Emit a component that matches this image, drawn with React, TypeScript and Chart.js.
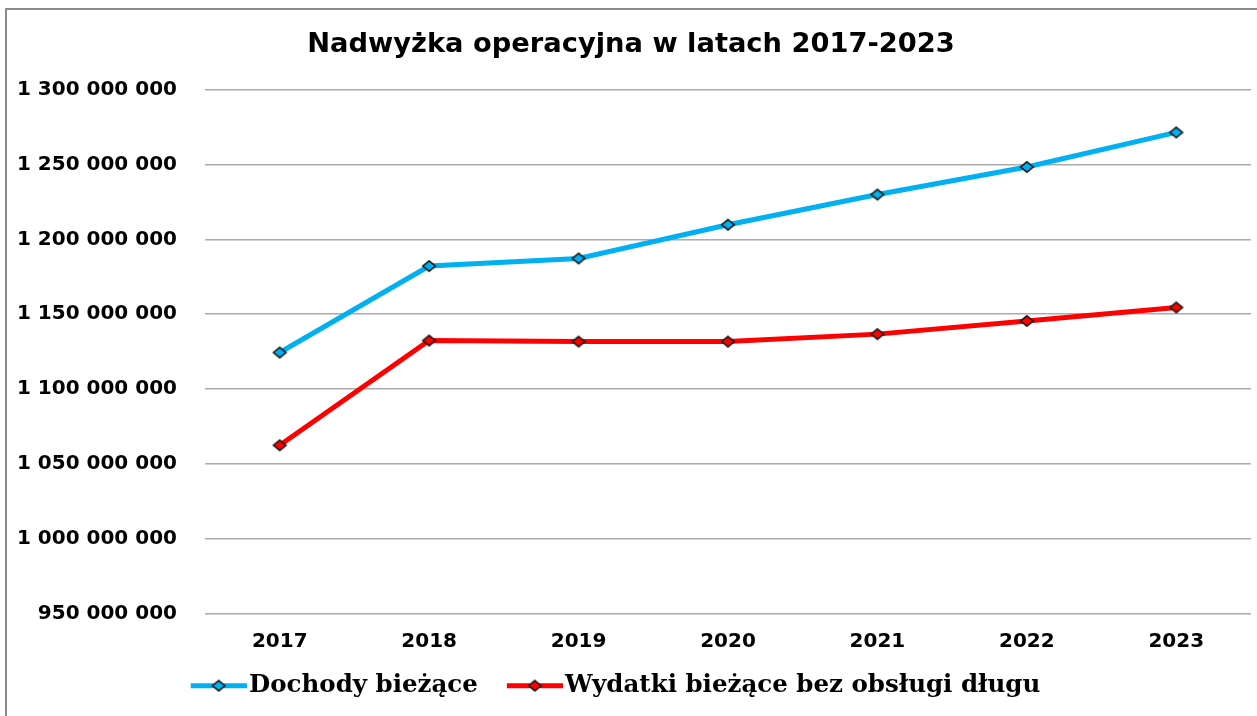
import React, { useEffect, useRef } from 'react';
import { Chart, registerables } from 'chart.js';

Chart.register(...registerables);

const TITLE = 'Nadwyżka operacyjna w latach 2017-2023';
const YEARS = ['2017', '2018', '2019', '2020', '2021', '2022', '2023'];
const DOCHODY_BIEZACE = [1124400000, 1182200000, 1187300000, 1209800000, 1230000000, 1248400000, 1271500000];
const WYDATKI_BEZ_OBSLUGI = [1062400000, 1132400000, 1131700000, 1131700000, 1136700000, 1145500000, 1154500000];
const SERIES_NAMES = ['Dochody bieżące', 'Wydatki bieżące bez obsługi długu'];
const SERIES_COLORS = ['#00B0F0', '#FF0000'];
const Y_MIN = 950000000;
const Y_MAX = 1300000000;
const Y_STEP = 50000000;

const CANVAS_W = 1262;
const CANVAS_H = 716;

function drawDiamond(ctx: CanvasRenderingContext2D, cx: number, cy: number, hw: number, hh: number, color: string) {
  ctx.beginPath();
  ctx.moveTo(cx, cy - hh);
  ctx.lineTo(cx + hw, cy);
  ctx.lineTo(cx, cy + hh);
  ctx.lineTo(cx - hw, cy);
  ctx.closePath();
  ctx.fillStyle = color;
  ctx.fill();
  ctx.lineWidth = 1.6;
  ctx.strokeStyle = '#1a1a1a';
  ctx.stroke();
}

function makePointImage(color: string) {
  const c = document.createElement('canvas');
  c.width = 16;
  c.height = 14;
  const ctx = c.getContext('2d')!;
  drawDiamond(ctx, 8, 7, 6.3, 5.2, color);
  return c;
}

function makeLegendImage(color: string) {
  const c = document.createElement('canvas');
  c.width = 75;
  c.height = 13;
  const ctx = c.getContext('2d')!;
  ctx.strokeStyle = color;
  ctx.lineWidth = 5;
  ctx.beginPath();
  ctx.moveTo(19, 6.5);
  ctx.lineTo(75, 6.5);
  ctx.stroke();
  drawDiamond(ctx, 47, 6.5, 6.3, 5.2, color);
  return c;
}

function formatSpaced(v: number) {
  return String(Math.round(v)).replace(/\B(?=(\d{3})+(?!\d))/g, ' ');
}

const legendShift = {
  id: 'legendShift',
  afterLayout(chart: any) {
    if (chart.legend) chart.legend.left -= 40;
  },
};

export default function App() {
  const ref = useRef<HTMLCanvasElement | null>(null);

  useEffect(() => {
    if (!ref.current) return;
    const pointImgs = SERIES_COLORS.map(makePointImage);
    const legendImgs = SERIES_COLORS.map(makeLegendImage);
    const seriesData = [DOCHODY_BIEZACE, WYDATKI_BEZ_OBSLUGI];

    const chart = new Chart(ref.current, {
      type: 'line',
      data: {
        labels: YEARS,
        datasets: seriesData.map((d, i) => ({
          label: SERIES_NAMES[i],
          data: d,
          borderColor: SERIES_COLORS[i],
          backgroundColor: SERIES_COLORS[i],
          borderWidth: 5,
          pointStyle: pointImgs[i] as any,
          pointRadius: 6,
          tension: 0,
          fill: false,
        })),
      },
      plugins: [legendShift],
      options: {
        responsive: false,
        animation: false,
        events: [],
        layout: { padding: { left: 0, right: 0, top: 0, bottom: 8 } },
        plugins: {
          tooltip: { enabled: false },
          title: {
            display: true,
            text: TITLE,
            color: '#000',
            font: { family: 'DejaVu Sans', size: 27.3, weight: 'bold' },
            padding: { top: 29, bottom: 28 },
          },
          legend: {
            display: true,
            position: 'bottom',
            labels: {
              color: '#000',
              font: { family: 'DejaVu Serif', size: 24.5, weight: 'bold' },
              usePointStyle: true,
              pointStyleWidth: 55,
              padding: 20,
              generateLabels: (c: any) => {
                const items = (Chart.defaults as any).plugins.legend.labels.generateLabels(c);
                return items.map((it: any) => ({ ...it, pointStyle: legendImgs[it.datasetIndex], fontColor: '#000' }));
              },
            },
          },
        },
        scales: {
          x: {
            type: 'category',
            offset: true,
            grid: { display: false, drawTicks: false },
            border: { display: false },
            afterFit: (s: any) => {
              s.height = 40;
            },
            ticks: {
              color: '#000',
              padding: 16,
              font: { family: 'DejaVu Sans', size: 20, weight: 'bold' },
              maxRotation: 0,
            },
          },
          y: {
            min: Y_MIN,
            max: Y_MAX,
            grid: { color: '#ababab', lineWidth: 1.5, drawTicks: false },
            border: { display: false },
            afterFit: (s: any) => {
              s.width = 205;
            },
            ticks: {
              stepSize: Y_STEP,
              color: '#000',
              padding: 28,
              font: { family: 'DejaVu Sans', size: 20, weight: 'bold' },
              callback: (v: any) => formatSpaced(Number(v)),
            },
          },
        },
      },
    });
    return () => chart.destroy();
  }, []);

  return (
    <div style={{ position: 'fixed', left: 0, top: 0, width: 1257, height: 716, overflow: 'hidden', background: '#fff' }}>
      <canvas ref={ref} width={CANVAS_W} height={CANVAS_H} style={{ display: 'block', position: 'absolute', left: 0, top: 0 }} />
      <div
        style={{
          position: 'absolute',
          left: 5,
          top: 8,
          width: 1400,
          height: 900,
          borderLeft: '2px solid #8c8c8c',
          borderTop: '2px solid #8c8c8c',
          pointerEvents: 'none',
        }}
      />
    </div>
  );
}
